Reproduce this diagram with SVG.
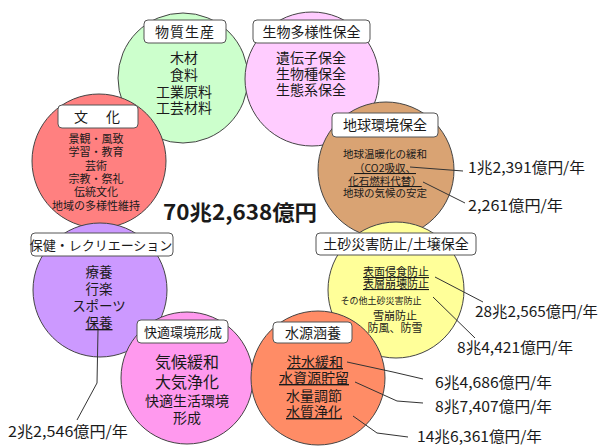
<svg xmlns="http://www.w3.org/2000/svg" width="601" height="446" viewBox="0 0 601 446">
<style>
.c{stroke:#444;stroke-width:1}
.lb{fill:#fff;stroke:#555;stroke-width:1}
text{font-family:"Noto Sans CJK JP","Noto Sans",sans-serif;fill:#1a1a1a}
.t{text-anchor:middle}
.u{text-decoration:underline}
.ln{fill:none;stroke:#333;stroke-width:1}
.v{font-size:15px}
</style>
<rect width="601" height="446" fill="#fff"/>
<g id="n-busshitsu">
<circle class="c" cx="183" cy="78" r="65" fill="#ccffcc"/>
</g>
<g id="n-seibutsu">
<circle class="c" cx="312" cy="79" r="67" fill="#ffccff"/>
</g>
<g id="n-bunka">
<circle class="c" cx="99" cy="161" r="67" fill="#ff8080"/>
</g>
<g id="n-chikyu">
<circle class="c" cx="386" cy="170" r="68" fill="#d9a373"/>
</g>
<g id="n-hoken">
<circle class="c" cx="100" cy="290" r="67" fill="#cc99ff"/>
</g>
<g id="n-dosha">
<circle class="c" cx="396" cy="290" r="68" fill="#ffff99"/>
</g>
<g id="n-kaiteki">
<circle class="c" cx="187" cy="378" r="66" fill="#ff99ee"/>
</g>
<g id="n-suigen">
<circle class="c" cx="318" cy="378" r="67" fill="#ff8c66"/>
</g>

<g id="l-busshitsu">
<rect class="lb" x="144" y="20" width="82" height="23" rx="4"/>
<text class="t" x="185" y="37" font-size="14" letter-spacing="1">物質生産</text>
<text class="t" x="184" y="63" font-size="14"><tspan x="184">木材</tspan><tspan x="184" dy="17">食料</tspan><tspan x="184" dy="17">工業原料</tspan><tspan x="184" dy="16">工芸材料</tspan></text>
</g>
<g id="l-seibutsu">
<rect class="lb" x="253" y="20" width="117" height="23" rx="4"/>
<text class="t" x="311.5" y="37" font-size="14">生物多様性保全</text>
<text class="t" x="311" y="63" font-size="14"><tspan x="311">遺伝子保全</tspan><tspan x="311" dy="16">生物種保全</tspan><tspan x="311" dy="16">生態系保全</tspan></text>
</g>
<g id="l-bunka">
<rect class="lb" x="58" y="105" width="80" height="23" rx="4"/>
<text class="t" x="98" y="122" font-size="14" letter-spacing="2">文　化</text>
<text class="t" x="96" y="143" font-size="11"><tspan x="96">景観・風致</tspan><tspan x="96" dy="13">学習・教育</tspan><tspan x="96" dy="14">芸術</tspan><tspan x="96" dy="13">宗教・祭礼</tspan><tspan x="96" dy="13">伝統文化</tspan><tspan x="96" dy="14">地域の多様性維持</tspan></text>
</g>
<g id="l-chikyu">
<rect class="lb" x="332" y="113" width="106" height="24" rx="4"/>
<text class="t" x="385" y="130" font-size="14">地球環境保全</text>
<text class="t" x="385" y="158" font-size="10.5"><tspan x="385">地球温暖化の緩和</tspan><tspan class="u" x="385" dy="14">（CO2吸収、</tspan><tspan class="u" x="385" dy="13">化石燃料代替）</tspan><tspan x="385" dy="12">地球の気候の安定</tspan></text>
</g>
<g id="l-hoken">
<rect class="lb" x="31" y="233" width="142" height="23" rx="4"/>
<text class="t" x="101" y="250" font-size="13">保健・レクリエーション</text>
<text class="t" x="99" y="277" font-size="13.5"><tspan x="99">療養</tspan><tspan x="99" dy="17">行楽</tspan><tspan x="99" dy="17">スポーツ</tspan><tspan class="u" x="99" dy="17">保養</tspan></text>
</g>
<g id="l-dosha">
<rect class="lb" x="316" y="233" width="160" height="22" rx="4"/>
<text class="t" x="396" y="249" font-size="14">土砂災害防止/土壌保全</text>
<text class="t" x="396" y="276" font-size="11"><tspan class="u" x="396">表面侵食防止</tspan><tspan class="u" x="396" dy="12">表層崩壊防止</tspan><tspan x="381" dy="16" font-size="9">その他土砂災害防止</tspan><tspan x="395" dy="16">雪崩防止</tspan><tspan x="395" dy="12">防風、防雪</tspan></text>
</g>
<g id="l-kaiteki">
<rect class="lb" x="137" y="320" width="91" height="23" rx="4"/>
<text class="t" x="183" y="337" font-size="13">快適環境形成</text>
<text class="t" x="187" y="368" font-size="16"><tspan x="187">気候緩和</tspan><tspan x="187" dy="20">大気浄化</tspan><tspan x="187" dy="18" font-size="14">快適生活環境</tspan><tspan x="187" dy="17" font-size="14">形成</tspan></text>
</g>
<g id="l-suigen">
<rect class="lb" x="273" y="322" width="79" height="21" rx="4"/>
<text class="t" x="313" y="338" font-size="14">水源涵養</text>
<text class="t" x="314" y="367" font-size="14"><tspan class="u" x="315">洪水緩和</tspan><tspan class="u" x="314" dy="16">水資源貯留</tspan><tspan x="314" dy="18">水量調節</tspan><tspan class="u" x="314" dy="16">水質浄化</tspan></text>
</g>

<g id="total">
<text x="163" y="220" font-size="21" font-weight="bold" textLength="154" lengthAdjust="spacingAndGlyphs">70兆2,638億円</text>
</g>

<g id="connectors">
<line class="ln" x1="410" y1="167" x2="463" y2="171"/>
<line class="ln" x1="423" y1="182" x2="465" y2="203"/>
<line class="ln" x1="435" y1="277" x2="483" y2="302"/>
<line class="ln" x1="433" y1="297" x2="475" y2="338"/>
<polyline class="ln" points="347,362 393,372 423,379"/>
<polyline class="ln" points="355,382 397,401 423,403"/>
<polyline class="ln" points="353,416 377,433 408,437"/>
<polyline class="ln" points="98,330 97,383 77,420"/>
</g>

<g id="values">
<text class="v" x="468" y="173" textLength="117" lengthAdjust="spacingAndGlyphs">1兆2,391億円/年</text>
<text class="v" x="468" y="211" textLength="95" lengthAdjust="spacingAndGlyphs">2,261億円/年</text>
<text class="v" x="475" y="317" textLength="123" lengthAdjust="spacingAndGlyphs">28兆2,565億円/年</text>
<text class="v" x="457" y="353" textLength="116" lengthAdjust="spacingAndGlyphs">8兆4,421億円/年</text>
<text class="v" x="435" y="388" textLength="117" lengthAdjust="spacingAndGlyphs">6兆4,686億円/年</text>
<text class="v" x="435" y="412" textLength="117" lengthAdjust="spacingAndGlyphs">8兆7,407億円/年</text>
<text class="v" x="417" y="442" textLength="125" lengthAdjust="spacingAndGlyphs">14兆6,361億円/年</text>
<text class="v" x="8" y="437" textLength="120" lengthAdjust="spacingAndGlyphs">2兆2,546億円/年</text>
</g>
</svg>
